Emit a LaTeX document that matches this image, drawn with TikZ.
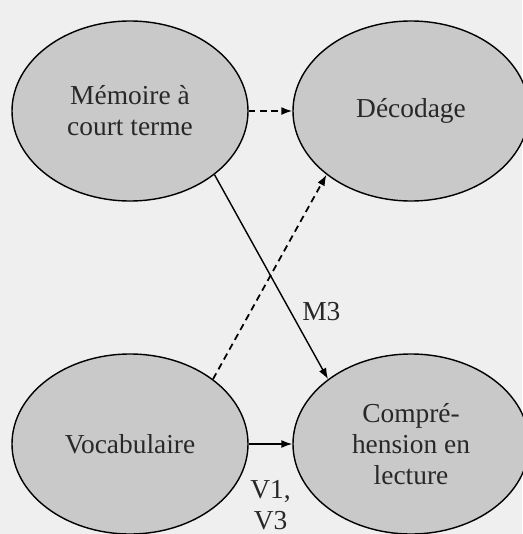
\documentclass[tikz,border=0pt]{standalone}
\usepackage{fontspec}
\setmainfont{Liberation Serif}
\usetikzlibrary{shapes, arrows.meta, positioning}
\definecolor{bggray}{RGB}{239,239,239}
\definecolor{cellgray}{RGB}{201,201,201}
\definecolor{inkgray}{RGB}{40,40,40}
\tikzset{
  construct/.style={
    ellipse, draw=black, fill=cellgray, line width=0.8pt,
    minimum width=4.72cm, minimum height=3.6cm,
    align=center, text=inkgray, inner sep=0pt,
    font=\fontsize{15.6}{17.6}\selectfont,
  },
  arrow/.style={
    -{Latex[length=2.2mm, width=1.6mm]}, line width=0.8pt, draw=black,
  },
  dasharrow/.style={
    arrow, line width=1pt, dash pattern=on 3.8pt off 2.6pt,
  },
  tlabel/.style={
    font=\fontsize{15.6}{17.6}\selectfont, text=inkgray,
    align=center, inner sep=0pt,
  }
}

\begin{document}
\begin{tikzpicture}

  \fill[bggray] (0,0) rectangle (10.44,-10.68);
  \useasboundingbox (0,0) rectangle (10.44,-10.68);

  \node[construct] (mct)  at (2.60,-2.22) {Mémoire à\\court terme};
  \node[construct] (dec)  at (8.22,-2.22) {Décodage};
  \node[construct] (voc)  at (2.60,-8.88) {Vocabulaire};
  \node[construct] (comp) at (8.22,-8.88) {Compré-\\hension en\\lecture};

  \draw[dasharrow] (mct.east) -- (dec.west);
  \draw[arrow] (voc.east) -- (comp.west)
    node[tlabel, midway, below=0.72cm] (vlab) {V1,\\V3};
  \draw[arrow] (mct.-37) -- (comp.142)
    node[tlabel, pos=0.67, right=0.22cm] (mlab) {M3};
  \draw[dasharrow] (voc.38) -- (dec.-143);

\end{tikzpicture}
\end{document}
